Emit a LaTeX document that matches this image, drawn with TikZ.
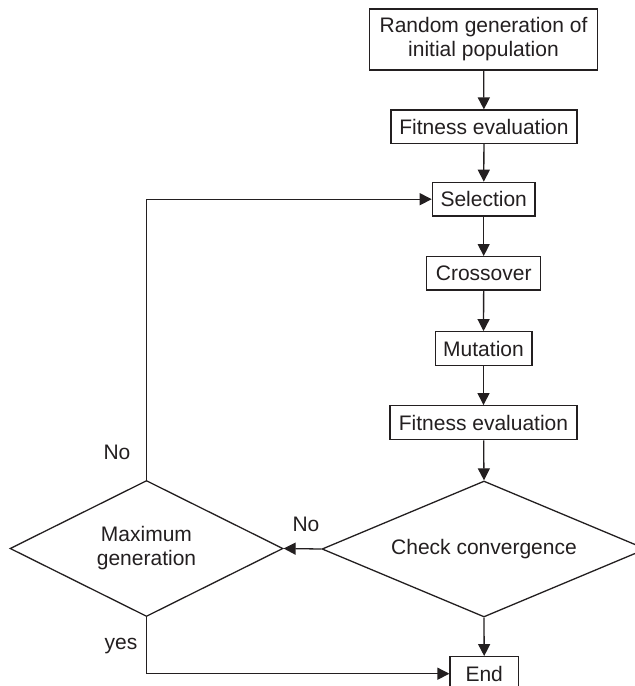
\documentclass[tikz,border=0pt]{standalone}
\usepackage{fontspec}
\setmainfont{Liberation Sans}
\usetikzlibrary{shapes.geometric,arrows.meta}
\definecolor{ink}{HTML}{231F20}
\begin{document}
\begin{tikzpicture}[x=1pt,y=-1pt,
  every node/.style={font=\fontsize{21}{24}\selectfont, text=ink},
  box/.style={draw=ink, line width=1.3pt, inner sep=0pt, align=center},
  dec/.style={draw=ink, line width=1.3pt, shape=diamond, inner sep=0pt, align=center, aspect=2.38},
  conn/.style={draw=ink, line width=1.3pt, -{Triangle[length=12pt,width=12pt]}},
  lbl/.style={inner sep=0pt}]
\useasboundingbox (0,0) rectangle (635,686);
\fill[white] (0,0) rectangle (635,686);
\node[box, minimum width=228pt, minimum height=61pt] (init) at (483.5,39.5) {Random generation of\\initial population};
\node[box, minimum width=186pt, minimum height=33.5pt] (fit1) at (484,126.8) {Fitness evaluation};
\node[box, minimum width=102.7pt, minimum height=33.7pt] (sel) at (483.7,199.2) {Selection};
\node[box, minimum width=114pt, minimum height=33.3pt] (cross) at (483.7,273.3) {Crossover};
\node[box, minimum width=96.7pt, minimum height=33.5pt] (mut) at (483.5,348.5) {Mutation};
\node[box, minimum width=187pt, minimum height=34pt] (fit2) at (483.5,422.7) {Fitness evaluation};
\node[dec, minimum width=324pt, minimum height=136pt] (conv) at (484,549) {Check convergence};
\node[dec, minimum width=273pt, minimum height=136pt] (maxg) at (146.5,548.5) {Maximum\\generation};
\node[box, minimum width=68.3pt, minimum height=34pt] (end) at (484.2,673.7) {End};
\node[lbl] (no1) at (117,452) {No};
\node[lbl] (no2) at (306,524) {No};
\node[lbl] (yes) at (121,646) {yes};
\draw[conn] (init) -- (fit1);
\draw[conn] (fit1) -- (sel);
\draw[conn] (sel) -- (cross);
\draw[conn] (cross) -- (mut);
\draw[conn] (mut) -- (fit2);
\draw[conn] (fit2) -- (conv.north);
\draw[conn] (conv.west) -- (maxg.east);
\draw[conn] (maxg.north) |- (sel.west);
\draw[conn] (conv.south) -- (end.north);
\draw[conn] (maxg.south) |- (end.west);
\end{tikzpicture}
\end{document}
